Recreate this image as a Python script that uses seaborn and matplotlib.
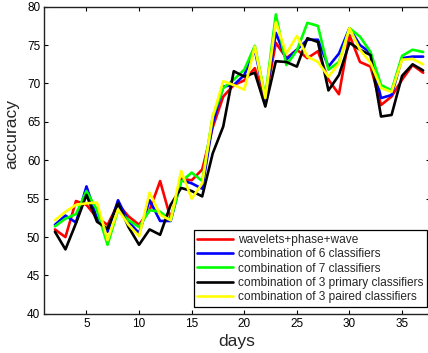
import matplotlib
matplotlib.use("Agg")
import matplotlib.pyplot as plt
import seaborn as sns
import pandas as pd

days = list(range(2, 38))

wavelets = [51.0, 50.0, 54.7, 54.2, 52.5, 51.6, 54.3, 52.7, 51.6, 53.5, 57.3, 52.4,
            57.6, 57.4, 58.8, 64.3, 68.3, 69.8, 70.4, 72.0, 67.9, 75.3, 73.3, 74.4,
            73.3, 74.2, 70.5, 68.6, 76.3, 72.8, 72.2, 67.2, 68.3, 70.5, 72.4, 71.4]
comb6 = [51.6, 52.8, 51.9, 56.6, 52.4, 50.7, 54.8, 52.0, 50.5, 54.8, 52.1, 52.1,
         57.4, 57.0, 56.3, 64.8, 69.6, 69.8, 71.1, 74.4, 67.9, 76.6, 73.1, 74.4,
         75.7, 75.7, 72.2, 73.9, 77.2, 75.0, 74.0, 68.1, 68.5, 73.3, 73.5, 73.5]
comb7 = [51.4, 52.4, 53.0, 56.0, 53.5, 49.0, 53.5, 52.2, 51.3, 53.5, 53.3, 52.2,
         57.2, 58.4, 57.3, 65.7, 69.4, 70.5, 71.8, 74.9, 68.3, 79.0, 72.4, 74.3,
         77.9, 77.5, 71.8, 72.8, 77.2, 76.1, 74.1, 69.8, 69.1, 73.6, 74.4, 74.1]
comb3_primary = [50.7, 48.4, 51.8, 55.5, 52.0, 51.1, 54.4, 51.3, 49.0, 51.0, 50.3, 54.2,
                 56.4, 56.0, 55.3, 60.9, 64.4, 71.6, 70.9, 71.4, 67.0, 72.9, 72.8, 72.2,
                 75.9, 75.4, 69.1, 71.1, 75.3, 74.4, 73.7, 65.7, 65.9, 71.0, 72.5, 71.7]
comb3_paired = [52.2, 53.3, 54.2, 54.4, 54.5, 49.6, 53.6, 51.6, 50.1, 55.8, 52.9, 52.2,
                58.6, 55.0, 57.0, 65.7, 70.3, 69.8, 69.2, 74.8, 68.1, 78.0, 73.9, 76.2,
                73.5, 72.8, 70.9, 72.6, 77.2, 74.4, 72.7, 69.4, 68.9, 73.1, 73.2, 72.5]

labels = ["wavelets+phase+wave",
          "combination of 6 classifiers",
          "combination of 7 classifiers",
          "combination of 3 primary classifiers",
          "combination of 3 paired classifiers"]
colors = ["#ff0000", "#0000ff", "#00ff00", "#000000", "#ffff00"]
series = [wavelets, comb6, comb7, comb3_primary, comb3_paired]

x_ticks = [5, 10, 15, 20, 25, 30, 35]
y_ticks = [40, 45, 50, 55, 60, 65, 70, 75, 80]

df = pd.DataFrame({
    "days": days * len(labels),
    "accuracy": [v for s in series for v in s],
    "method": [lab for lab in labels for _ in days],
})

sns.set_style("ticks")
plt.rcParams["font.family"] = ["Liberation Sans", "DejaVu Sans"]

fig = plt.figure(figsize=(4.28, 3.53), dpi=100)
W, H = 428, 353
ax = fig.add_axes([44.4 / W, (H - 313.9) / H, (429.5 - 44.4) / W, 307.2 / H])

sns.lineplot(data=df, x="days", y="accuracy", hue="method", hue_order=labels,
             palette=colors, linewidth=1.9, ax=ax, legend=False)

ax.set_xlim(1, 1 + (429.5 - 44.4) / 10.52)
ax.set_ylim(40, 80)
ax.set_xticks(x_ticks)
ax.set_yticks(y_ticks)
ax.tick_params(direction="in", length=3, width=0.8, top=True, right=True,
               labelsize=8.5, colors="black", pad=3)
for side in ["left", "top", "right", "bottom"]:
    ax.spines[side].set_visible(True)
    ax.spines[side].set_color("#222222")
    ax.spines[side].set_linewidth(1.0)

ax.set_xlabel("days", fontsize=12.5, labelpad=3)
ax.set_ylabel("accuracy", fontsize=12.5)
ax.yaxis.set_label_coords(-25 / 385, 0.585)

handles = [plt.Line2D([], [], color=c, lw=1.9) for c in colors]
leg = ax.legend(handles, labels, loc="lower right",
                bbox_to_anchor=(427 / W, (H - 307) / H), bbox_transform=fig.transFigure,
                fontsize=8.6, frameon=True, fancybox=False, framealpha=1,
                edgecolor="black", borderaxespad=0, handlelength=3.0,
                handletextpad=0.4, labelspacing=0.2, borderpad=0.3)
leg.get_frame().set_linewidth(0.9)

fig.savefig("out.png", dpi=100)
